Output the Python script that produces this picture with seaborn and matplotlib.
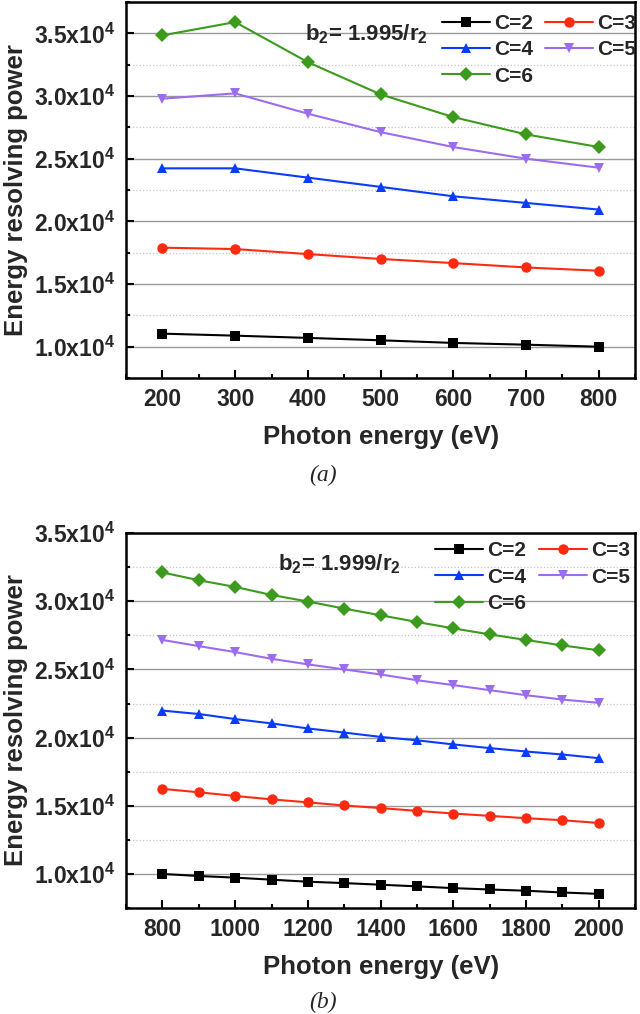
import matplotlib
matplotlib.use("Agg")
import matplotlib.pyplot as plt
import seaborn as sns
import pandas as pd
from matplotlib.ticker import MultipleLocator, FuncFormatter

### Datos

# panel (a): b2 = 1.995/r2
energy_a = [200, 300, 400, 500, 600, 700, 800]
rp_a_c2 = [11040, 10880, 10700, 10510, 10300, 10160, 10000]
rp_a_c3 = [17900, 17790, 17390, 17000, 16670, 16320, 16060]
rp_a_c4 = [24230, 24230, 23490, 22750, 22000, 21470, 20940]
rp_a_c5 = [29790, 30210, 28590, 27120, 25930, 25000, 24280]
rp_a_c6 = [34840, 35900, 32700, 30130, 28320, 26940, 25930]

# panel (b): b2 = 1.999/r2
energy_b = [800, 900, 1000, 1100, 1200, 1300, 1400, 1500, 1600, 1700, 1800, 1900, 2000]
rp_b_c2 = [10000, 9850, 9730, 9580, 9430, 9330, 9210, 9090, 8960, 8860, 8770, 8640, 8540]
rp_b_c3 = [16240, 15990, 15720, 15470, 15250, 15020, 14830, 14630, 14430, 14260, 14090, 13940, 13740]
rp_b_c4 = [21980, 21730, 21360, 21040, 20670, 20370, 20050, 19800, 19500, 19230, 18980, 18760, 18490]
rp_b_c5 = [27160, 26710, 26270, 25780, 25370, 25000, 24630, 24210, 23850, 23480, 23110, 22790, 22550]
rp_b_c6 = [32110, 31540, 31050, 30460, 29980, 29460, 28970, 28480, 28010, 27570, 27160, 26760, 26400]

series_names = ["C=2", "C=3", "C=4", "C=5", "C=6"]
y_ticks = [10000, 15000, 20000, 25000, 30000, 35000]

colores = {"C=2": "#000000", "C=3": "#ff2a10", "C=4": "#0a3cff",
           "C=5": "#9c6cf0", "C=6": "#3c9a1c"}
marcadores = {"C=2": "s", "C=3": "o", "C=4": "^", "C=5": "v", "C=6": "D"}

### Estilo
sns.set_theme(style="white")
plt.rcParams['font.family'] = ['Liberation Sans', 'DejaVu Sans']
plt.rcParams['font.weight'] = 'bold'
plt.rcParams['mathtext.fontset'] = 'custom'
plt.rcParams['mathtext.rm'] = 'Liberation Sans:bold'
plt.rcParams['mathtext.bf'] = 'Liberation Sans:bold'
plt.rcParams['mathtext.it'] = 'Liberation Sans:bold'
plt.rcParams['mathtext.default'] = 'bf'


def tabla(energy, valores):
    df = pd.DataFrame({"energy": energy})
    for nombre, v in zip(series_names, valores):
        df[nombre] = v
    return df.melt(id_vars="energy", var_name="C", value_name="rp")


def panel(ax, df, xlim, ylim, xmaj, xmin, nota, nota_xy, leg_xy, caption, cap_y):
    sns.lineplot(data=df, x="energy", y="rp", hue="C", style="C",
                 markers=marcadores, dashes=False, palette=colores,
                 linewidth=1.5, markersize=7.5, markeredgewidth=0, ax=ax)
    ax.set_xlim(*xlim)
    ax.set_ylim(*ylim)
    ax.xaxis.set_major_locator(MultipleLocator(xmaj))
    ax.xaxis.set_minor_locator(MultipleLocator(xmin))
    ax.set_yticks(y_ticks)
    ax.yaxis.set_minor_locator(MultipleLocator(2500))
    ax.yaxis.set_major_formatter(FuncFormatter(lambda v, p: "%.1fx10$^{4}$" % (v / 1e4)))

    ax.yaxis.grid(True, which="major", color="#9a9a9a", lw=1.0, ls="-")
    ax.yaxis.grid(True, which="minor", color="#c4c4c4", lw=0.9, ls=":")
    ax.xaxis.grid(False)
    ax.set_axisbelow(True)

    for s in ax.spines.values():
        s.set_linewidth(1.8)
        s.set_color("black")
    ax.tick_params(which="both", direction="in", width=1.5, labelsize=16.5,
                   bottom=True, left=True, top=False, right=False, color="black")
    ax.tick_params(axis="x", which="major", length=6, pad=7)
    ax.tick_params(axis="y", which="major", length=6, pad=8)
    ax.tick_params(which="minor", length=3)

    ax.set_xlabel("Photon energy (eV)", fontsize=18.5, fontweight="bold", labelpad=10)
    ax.set_ylabel("Energy resolving power", fontsize=18.5, fontweight="bold", labelpad=4)

    ax.text(nota_xy[0], nota_xy[1], nota, transform=ax.transAxes,
            fontsize=16, va="baseline", ha="left")

    leg = ax.get_legend()
    handles = leg.legend_handles
    labels = [t.get_text() for t in leg.get_texts()]
    orden = [0, 2, 4, 1, 3]
    ax.legend([handles[i] for i in orden], [labels[i] for i in orden],
              ncol=2, loc="upper left", bbox_to_anchor=leg_xy,
              frameon=False, fontsize=15, borderpad=0, borderaxespad=0,
              handlelength=2.3, handletextpad=0.2, columnspacing=0.6,
              labelspacing=0.35)

    fig.text(0.505, cap_y, caption, fontsize=17, style="italic",
             family=["Liberation Serif", "DejaVu Serif"], fontweight="normal",
             ha="center", va="center")


fig = plt.figure(figsize=(6.4, 10.14), dpi=100)
ax_a = fig.add_axes([0.197, 0.6272, 0.7953, 0.3708])
ax_b = fig.add_axes([0.197, 0.1045, 0.7953, 0.3698])

datos_a = tabla(energy_a, [rp_a_c2, rp_a_c3, rp_a_c4, rp_a_c5, rp_a_c6])
datos_b = tabla(energy_b, [rp_b_c2, rp_b_c3, rp_b_c4, rp_b_c5, rp_b_c6])

panel(ax_a, datos_a, (150, 850), (7500, 37500), 100, 50,
      "b$_{2}$= 1.995/r$_{2}$", (0.352, 0.899), (0.62, 0.968), "(a)", 1 - 475 / 1014)
panel(ax_b, datos_b, (700, 2100), (7500, 35000), 200, 100,
      "b$_{2}$= 1.999/r$_{2}$", (0.299, 0.901), (0.607, 0.978), "(b)", 1 - 1002 / 1014)

fig.savefig("out.png", dpi=100)
